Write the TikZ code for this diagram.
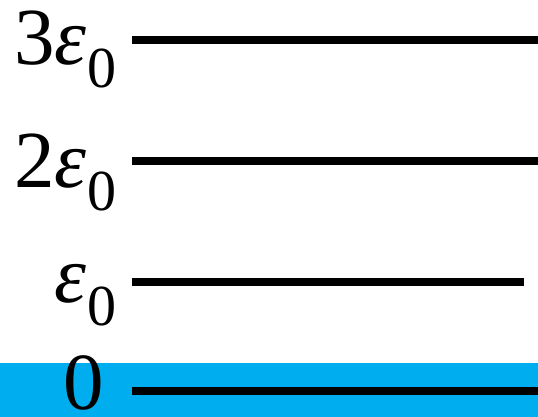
\documentclass[tikz,border=0pt]{standalone}
\usepackage{fontspec}
\setmainfont{Liberation Serif}
\usetikzlibrary{positioning}
\definecolor{bandcyan}{RGB}{0,174,239}
\newcommand\epsnull{{\itshape ε}\kern1pt\raisebox{-23pt}{\fontsize{58}{58}\selectfont 0}}

\begin{document}
\begin{tikzpicture}[x=1pt,y=-1pt]
\tikzset{level/.style={line width=8pt,black},
  lvllabel/.style={anchor=base east,inner sep=0pt,font=\fontsize{81}{84}\selectfont}}
\useasboundingbox (0,0) rectangle (538,417);
% ground band
\fill[bandcyan] (0,363) rectangle (538,417);
% levels
\draw[level] (132,40) -- (538,40);
\draw[level] (132,161) -- (538,161);
\draw[level] (132,282) -- (524,282);
\draw[level] (132,391) -- (538,391);
% labels
\node[lvllabel] (lbl3) at (117,65) {3\epsnull};
\node[lvllabel] (lbl2) at (117,187) {2\epsnull};
\node[lvllabel] (lbl1) at (117,302) {\epsnull};
\node[lvllabel] (lbl0) at (104,409) {0};
\end{tikzpicture}
\end{document}
